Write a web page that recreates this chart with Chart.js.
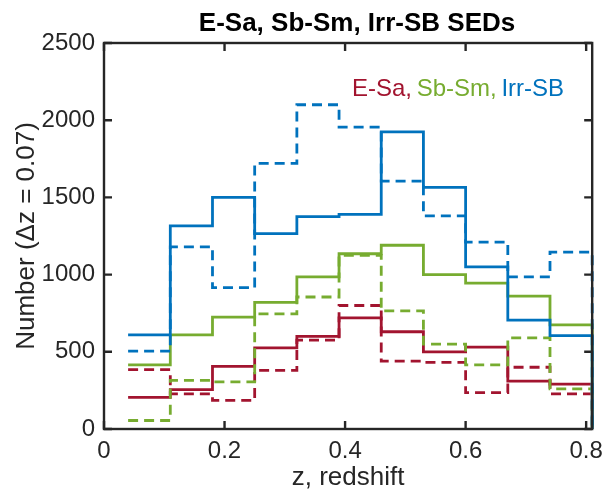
<!DOCTYPE html>
<html>
<head>
<meta charset="utf-8">
<script src="https://cdn.jsdelivr.net/npm/chart.js@4.4.0/dist/chart.umd.min.js"></script>
<style>
  html, body { margin: 0; padding: 0; background: #fff; }
</style>
</head>
<body>
<canvas id="sed-hist" width="611" height="493"></canvas>
<script>
/* bin edges, delta z = 0.07 */
const binEdges = [0.04, 0.11, 0.18, 0.25, 0.32, 0.39, 0.46, 0.53, 0.60, 0.67, 0.74, 0.81];

/* counts per bin, solid and dashed for each SED class */
const irrSolid  = [610, 1315, 1500, 1265, 1375, 1390, 1925, 1565, 1050, 705, 605];
const irrDashed = [505, 1180, 915, 1720, 2100, 1955, 1605, 1380, 1210, 985, 1145];
const sbSolid   = [415, 610, 725, 820, 985, 1135, 1190, 1000, 945, 860, 675];
const sbDashed  = [55, 315, 305, 745, 855, 1125, 765, 550, 415, 590, 260];
const esaSolid  = [205, 255, 405, 525, 600, 720, 630, 500, 530, 310, 290];
const esaDashed = [385, 228, 185, 380, 575, 800, 440, 432, 235, 400, 228];

const xTicks = [0, 0.2, 0.4, 0.6, 0.8];
const yTicks = [0, 500, 1000, 1500, 2000, 2500];

const blue = '#0072BD';
const red = '#A2142F';
const green = '#77AC30';
const axisColor = '#262626';
const fontName = "'Liberation Sans', Arial, sans-serif";

// stairs: one point per left edge, then drop to zero at the last edge
function stairs(counts) {
    const pts = counts.map(function(c, i) { return {x: binEdges[i], y: c}; });
    pts.push({x: binEdges[binEdges.length - 1], y: 0});
    return pts;
}

function histLine(counts, color, dashed) {
    return {
        data: stairs(counts),
        borderColor: color,
        borderWidth: 2.8,
        borderDash: dashed ? [10, 6] : [],
        stepped: 'before',
        pointRadius: 0,
        fill: false,
        clip: 6
    };
}

/* box, inward ticks, title, labels */
const matlabFrame = {
    id: 'matlabFrame',
    afterDatasetsDraw(chart) {
        const ctx = chart.ctx;
        const a = chart.chartArea;
        const xs = chart.scales.x;
        const ys = chart.scales.y;
        ctx.save();
        ctx.strokeStyle = axisColor;
        ctx.lineWidth = 2.4;
        ctx.strokeRect(a.left, a.top, a.right - a.left, a.bottom - a.top);
        const tl = 8;
        ctx.beginPath();
        xTicks.forEach(function(v) {
            const px = xs.getPixelForValue(v);
            ctx.moveTo(px, a.bottom); ctx.lineTo(px, a.bottom - tl);
            ctx.moveTo(px, a.top); ctx.lineTo(px, a.top + tl);
        });
        yTicks.forEach(function(v) {
            const py = ys.getPixelForValue(v);
            ctx.moveTo(a.left, py); ctx.lineTo(a.left + tl, py);
            ctx.moveTo(a.right, py); ctx.lineTo(a.right - tl, py);
        });
        ctx.stroke();

        // title
        ctx.fillStyle = '#000';
        ctx.font = 'bold 26px ' + fontName;
        ctx.textAlign = 'center';
        ctx.textBaseline = 'alphabetic';
        ctx.fillText('E-Sa, Sb-Sm, Irr-SB SEDs', 357, 31);

        // axis titles
        ctx.fillStyle = axisColor;
        ctx.font = '26px ' + fontName;
        ctx.textBaseline = 'middle';
        ctx.fillText('z, redshift', (a.left + a.right) / 2, 478);
        ctx.save();
        ctx.translate(27, (a.top + a.bottom) / 2);
        ctx.rotate(-Math.PI / 2);
        ctx.fillText('Number (\u0394z = 0.07)', 0, 0);
        ctx.restore();

        // coloured key text
        ctx.font = '24px ' + fontName;
        ctx.textAlign = 'left';
        ctx.textBaseline = 'alphabetic';
        let x = 352;
        const parts = [['E-Sa, ', red], ['Sb-Sm, ', green], ['Irr-SB', blue]];
        parts.forEach(function(p) {
            ctx.fillStyle = p[1];
            ctx.fillText(p[0], x, 96);
            x += ctx.measureText(p[0]).width - 2;
        });
        ctx.restore();
    }
};

const ctx_sed = document.getElementById('sed-hist').getContext('2d');
const sedChart = new Chart(ctx_sed, {
    type: 'line',
    data: {
        datasets: [
            histLine(irrSolid, blue, false),
            histLine(irrDashed, blue, true),
            histLine(sbSolid, green, false),
            histLine(sbDashed, green, true),
            histLine(esaSolid, red, false),
            histLine(esaDashed, red, true)
        ]
    },
    options: {
        responsive: false,
        animation: false,
        layout: { padding: { left: 0, right: 13, top: 43, bottom: 0 } },
        plugins: {
            legend: { display: false },
            tooltip: { enabled: false }
        },
        scales: {
            x: {
                type: 'linear',
                min: 0,
                max: 0.81,
                afterBuildTicks: function(scale) {
                    scale.ticks = xTicks.map(function(v) { return {value: v}; });
                },
                afterFit: function(scale) { scale.height = 64; },
                grid: { display: false, drawTicks: false },
                border: { display: false },
                ticks: {
                    color: axisColor,
                    padding: 8,
                    maxRotation: 0,
                    font: { family: fontName, size: 24 },
                    callback: function(v) { return String(v); }
                }
            },
            y: {
                type: 'linear',
                min: 0,
                max: 2500,
                afterBuildTicks: function(scale) {
                    scale.ticks = yTicks.map(function(v) { return {value: v}; });
                },
                afterFit: function(scale) { scale.width = 104; },
                grid: { display: false, drawTicks: false },
                border: { display: false },
                ticks: {
                    color: axisColor,
                    padding: 9,
                    font: { family: fontName, size: 24 },
                    callback: function(v) { return String(v); }
                }
            }
        }
    },
    plugins: [matlabFrame]
});
</script>
</body>
</html>
